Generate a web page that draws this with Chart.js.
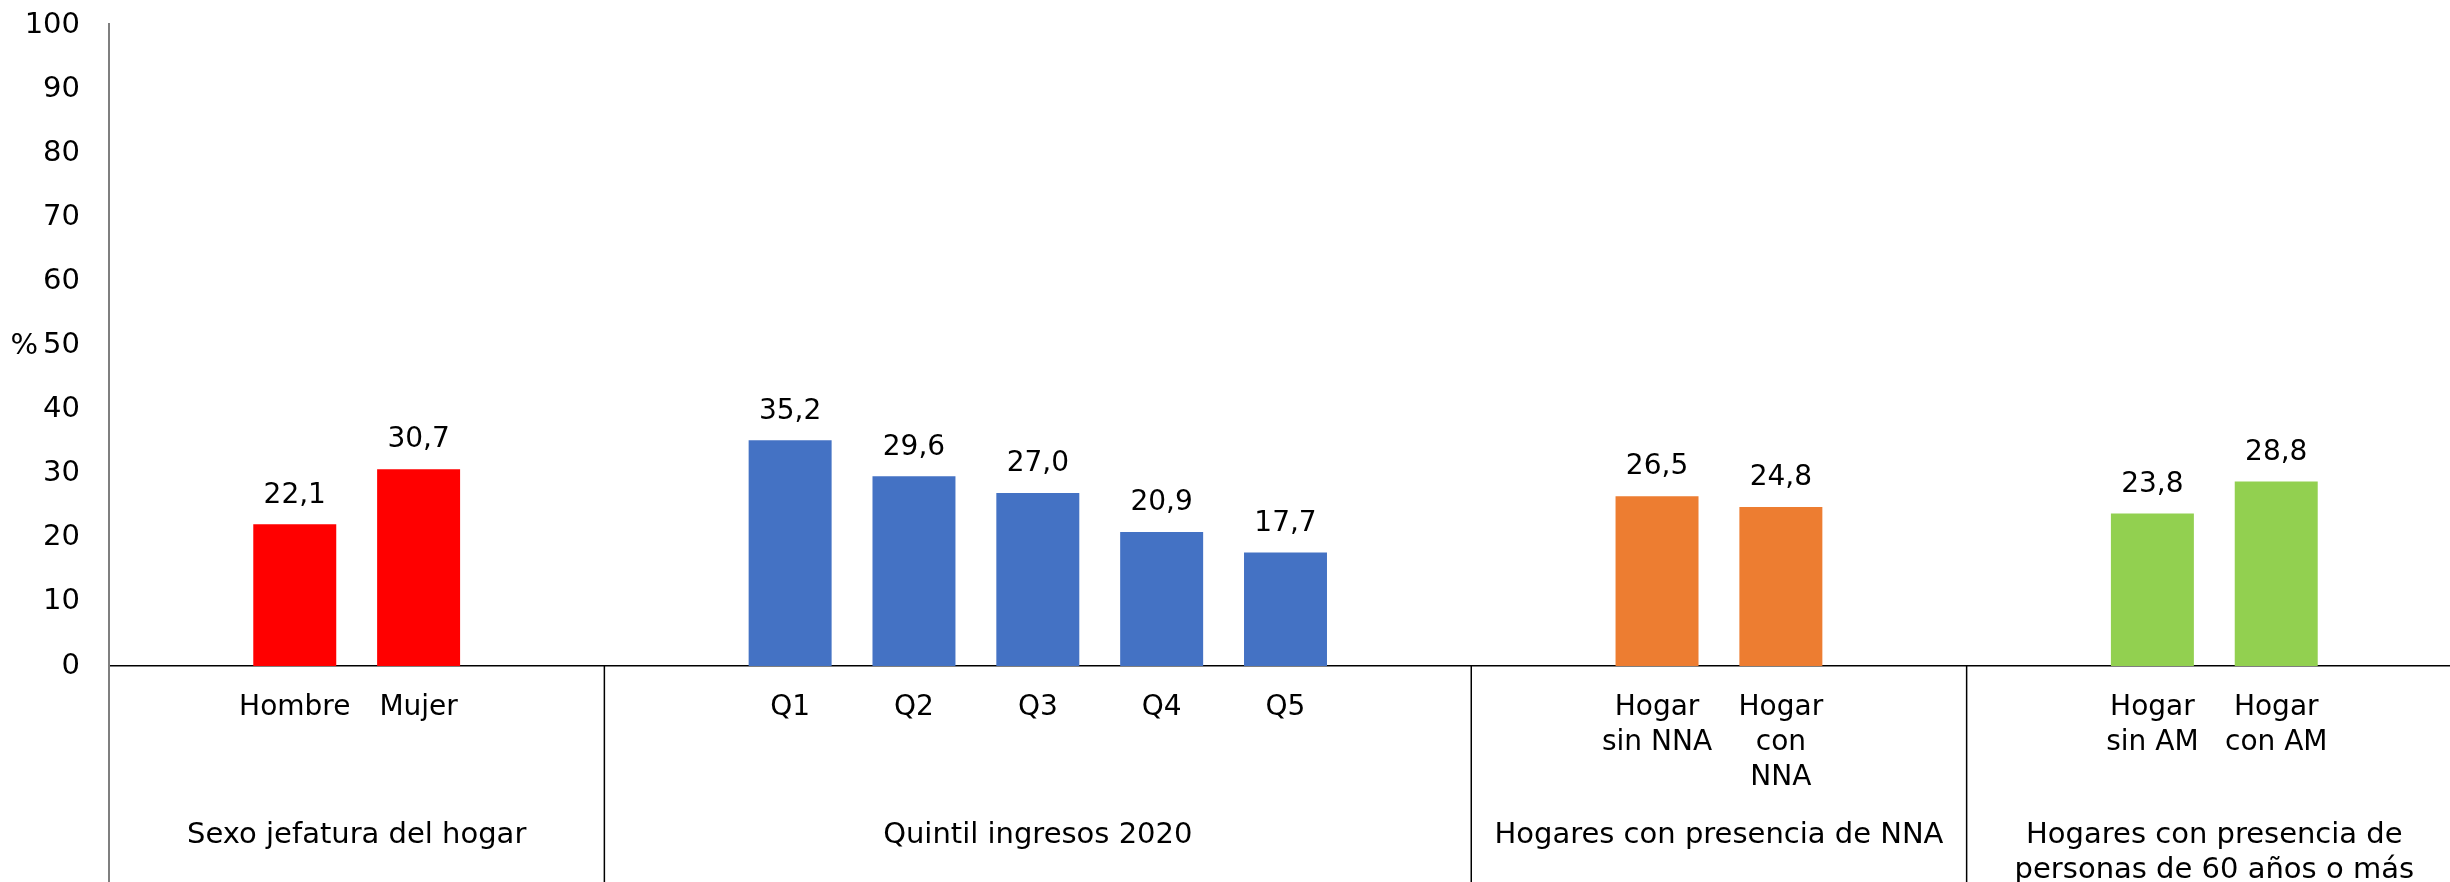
<!DOCTYPE html>
<html>
<head>
<meta charset="utf-8">
<script src="https://cdn.jsdelivr.net/npm/chart.js@4/dist/chart.umd.min.js"></script>
<style>
  html, body { margin: 0; padding: 0; background: #fff; overflow: hidden; }
</style>
</head>
<body>
<canvas id="chart" width="2462" height="882"></canvas>
<script>
// groups along the x axis
const groupNames = [
  'Sexo jefatura del hogar',
  'Quintil ingresos 2020',
  'Hogares con presencia de NNA',
  ['Hogares con presencia de', 'personas de 60 años o más']
];
const sexLabels = ['Hombre', 'Mujer'];
const quintileLabels = ['Q1', 'Q2', 'Q3', 'Q4', 'Q5'];
const nnaLabels = [['Hogar', 'sin NNA'], ['Hogar', 'con', 'NNA']];
const amLabels = [['Hogar', 'sin AM'], ['Hogar', 'con AM']];

const sexValues = [22.1, 30.7];
const quintileValues = [35.2, 29.6, 27.0, 20.9, 17.7];
const nnaValues = [26.5, 24.8];
const amValues = [23.8, 28.8];

const groupColors = ['#FF0000', '#4472C4', '#ED7D31', '#92D050'];

const yTicks = [0, 10, 20, 30, 40, 50, 60, 70, 80, 90, 100];

const FONT = 'DejaVu Sans';

// build the category slots: one empty slot on each side of every group
const groupLabels = [sexLabels, quintileLabels, nnaLabels, amLabels];
const groupValues = [sexValues, quintileValues, nnaValues, amValues];
const labels = [];
const data = [];
const colors = [];
const groupRanges = [];
groupLabels.forEach((g, gi) => {
  const start = labels.length;
  labels.push(''); data.push(null); colors.push('transparent');
  g.forEach((lab, i) => {
    labels.push(lab);
    data.push(groupValues[gi][i]);
    colors.push(groupColors[gi]);
  });
  labels.push(''); data.push(null); colors.push('transparent');
  groupRanges.push([start, labels.length - 1]);
});

const extrasPlugin = {
  id: 'extras',
  afterDraw(chart) {
    const ctx = chart.ctx;
    const area = chart.chartArea;
    const xs = chart.scales.x;
    const ys = chart.scales.y;
    const H = chart.height;
    ctx.save();

    // y axis continues below the zero line
    ctx.strokeStyle = '#7f7f7f';
    ctx.lineWidth = 2;
    ctx.beginPath();
    ctx.moveTo(area.left, area.top - 2);
    ctx.lineTo(area.left, H);
    ctx.stroke();

    // group dividers
    ctx.strokeStyle = '#000';
    ctx.lineWidth = 1.5;
    for (let g = 1; g < groupRanges.length; g++) {
      const i = groupRanges[g][0];
      const x = (xs.getPixelForValue(i - 1) + xs.getPixelForValue(i)) / 2;
      ctx.beginPath();
      ctx.moveTo(x, area.bottom);
      ctx.lineTo(x, H);
      ctx.stroke();
    }

    // group names
    ctx.fillStyle = '#000';
    ctx.font = '29px "' + FONT + '"';
    ctx.textAlign = 'center';
    ctx.textBaseline = 'middle';
    groupRanges.forEach((r, g) => {
      const x = (xs.getPixelForValue(r[0]) + xs.getPixelForValue(r[1])) / 2;
      const lines = Array.isArray(groupNames[g]) ? groupNames[g] : [groupNames[g]];
      lines.forEach((t, k) => {
        ctx.fillText(t, x, area.bottom + 169 + k * 35);
      });
    });

    // value labels
    ctx.font = '28px "' + FONT + '"';
    const meta = chart.getDatasetMeta(0);
    meta.data.forEach((bar, i) => {
      const v = data[i];
      if (v === null) return;
      ctx.fillText(v.toFixed(1).replace('.', ','), bar.x, bar.y - 29);
    });

    // "%" beside the 50 tick
    ctx.font = '29px "' + FONT + '"';
    ctx.textAlign = 'right';
    const w50 = ctx.measureText('50').width;
    ctx.fillText('%', area.left - 29 - w50 - 5, ys.getPixelForValue(50) + 1);

    ctx.restore();
  }
};

new Chart(document.getElementById('chart'), {
  type: 'bar',
  data: {
    labels: labels,
    datasets: [{
      data: data,
      backgroundColor: colors,
      barPercentage: 0.67,
      categoryPercentage: 1
    }]
  },
  options: {
    responsive: false,
    animation: false,
    layout: { padding: { top: 25, right: 0, bottom: 0, left: 0 } },
    plugins: {
      legend: { display: false },
      tooltip: { enabled: false }
    },
    scales: {
      x: {
        grid: { display: false, drawTicks: false },
        border: { display: true, color: '#000', width: 1.5 },
        ticks: {
          autoSkip: false,
          maxRotation: 0,
          minRotation: 0,
          padding: 24,
          color: '#000',
          font: { family: FONT, size: 28, lineHeight: 1.25 }
        },
        afterFit: (scale) => { scale.height = 216; }
      },
      y: {
        min: 0,
        max: 100,
        afterBuildTicks: (scale) => { scale.ticks = yTicks.map(v => ({ value: v })); },
        grid: { display: false, drawTicks: false },
        border: { display: true, color: '#7f7f7f', width: 2 },
        ticks: {
          padding: 29,
          color: '#000',
          font: { family: FONT, size: 29 }
        },
        afterFit: (scale) => {
          scale.width = 109;
          scale.paddingTop = 0;
          scale.paddingBottom = 0;
        }
      }
    }
  },
  plugins: [extrasPlugin]
});
</script>
</body>
</html>
